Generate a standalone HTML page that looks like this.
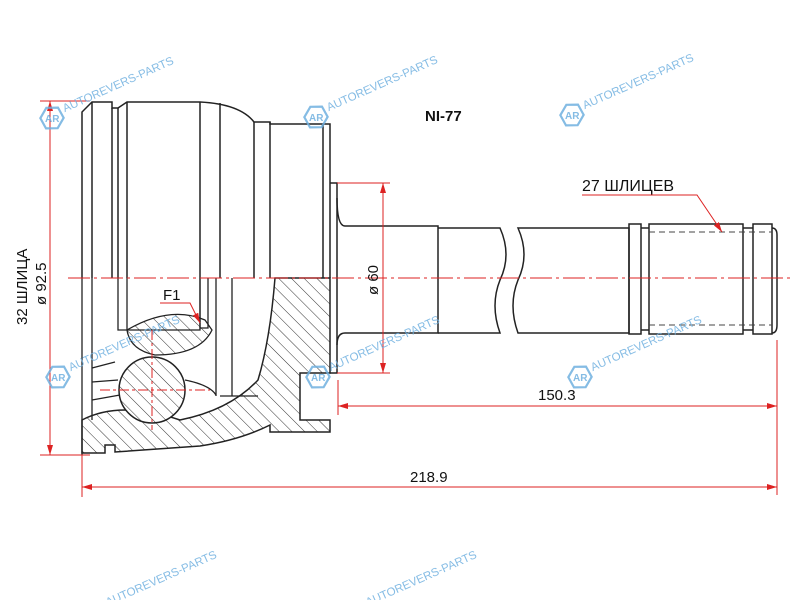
<!DOCTYPE html>
<html><head><meta charset="utf-8"><style>html,body{margin:0;padding:0;background:#fff}svg{display:block}</style></head>
<body>
<svg width="800" height="600" viewBox="0 0 800 600" xmlns="http://www.w3.org/2000/svg" font-family="Liberation Sans, sans-serif">
<defs>
<pattern id="h" patternUnits="userSpaceOnUse" width="9" height="9" patternTransform="rotate(-45)">
<rect width="9" height="9" fill="#fff"/><line x1="0" y1="0" x2="0" y2="9" stroke="#333" stroke-width="1"/></pattern>
<g id="wm">
<polygon points="0,-12 10,-6 10,6 0,12 -10,6 -10,-6" fill="none" stroke="#6fb0e0" stroke-width="2.2" transform="rotate(30)"/>
<text x="-7" y="4" font-size="10" fill="#6fb0e0" font-weight="bold">AR</text>
<text x="14" y="0" font-size="11.5" fill="#6fb0e0" transform="rotate(-24)">AUTOREVERS-PARTS</text>
</g>
<marker id="a" markerWidth="10" markerHeight="6" refX="10" refY="3" orient="auto" markerUnits="userSpaceOnUse"><path d="M0,0 L10,3 L0,6z" fill="#d22"/></marker>
<marker id="b" markerWidth="10" markerHeight="6" refX="0" refY="3" orient="auto" markerUnits="userSpaceOnUse"><path d="M10,0 L0,3 L10,6z" fill="#d22"/></marker>
</defs>

<g fill="none" stroke="#222" stroke-width="1.5">
<!-- housing upper -->
<path d="M82,278 V112 L92,102 H112 V108 H118 L127,102 H200 Q240,104 254,122 H270 V124 H330 V278"/>
<line x1="92" y1="102" x2="92" y2="278"/><line x1="112" y1="108" x2="112" y2="278"/><line x1="118" y1="108" x2="118" y2="278"/>
<line x1="127" y1="102" x2="127" y2="278"/><line x1="200" y1="102" x2="200" y2="278"/><line x1="220" y1="103" x2="220" y2="278"/>
<line x1="254" y1="122" x2="254" y2="278"/><line x1="270" y1="122" x2="270" y2="278"/><line x1="323" y1="124" x2="323" y2="278"/>
<!-- stem -->
<path d="M330,183 H337 V373 H330"/>
<path d="M337,198 Q337,226 345,226 H438 V333 H345 Q337,333 337,345"/>
<path d="M438,228 H500 Q512,255 500,280 Q490,305 500,333 H438"/>
<path d="M518,228 Q530,255 518,280 Q508,305 518,333 H629 V228 Z"/>
<rect x="629" y="224" width="12" height="110"/><rect x="649" y="224" width="94" height="110"/><rect x="753" y="224" width="19" height="110"/>
<path d="M772,228 Q777,228 777,235 V325 Q777,333 772,333"/>
<line x1="641" y1="228" x2="649" y2="228"/><line x1="641" y1="330" x2="649" y2="330"/><line x1="743" y1="228" x2="753" y2="228"/><line x1="743" y1="330" x2="753" y2="330"/>
</g>
<g stroke="#444" stroke-width="1" stroke-dasharray="6,4"><line x1="649" y1="232" x2="772" y2="232"/><line x1="649" y1="325" x2="772" y2="325"/></g>

<!-- lower section hatched -->
<path d="M275,278 H330 V373 H300 V420 H330 V432 H270 V425 Q240,440 200,446 L115,452 V445 H105 V453 H82 V420 Q120,400 180,420 Q230,410 258,380 Q270,340 275,278Z" fill="url(#h)" stroke="#222" stroke-width="1.5"/>
<path d="M127,330 Q170,305 205,320 L212,330 Q200,355 155,355 Q130,350 127,330Z" fill="url(#h)" stroke="#222" stroke-width="1.3"/>
<circle cx="152" cy="390" r="33" fill="url(#h)" stroke="#222" stroke-width="1.5"/>
<g fill="none" stroke="#222" stroke-width="1.3">
<line x1="82" y1="278" x2="82" y2="455"/><line x1="92" y1="278" x2="92" y2="420"/><line x1="127" y1="278" x2="127" y2="330"/>
<path d="M118,278 V330 H200 V278"/><path d="M200,278 V328 H208 V278"/><line x1="216" y1="278" x2="216" y2="396"/><line x1="232" y1="278" x2="232" y2="396"/>
<line x1="220" y1="396" x2="258" y2="396"/>
<path d="M92,368 L115,362 M92,382 L118,380 M92,400 L120,395"/>
<path d="M185,380 Q210,385 216,395"/>
</g>

<!-- centerlines & dims -->
<g stroke="#d22" stroke-width="1" fill="none">
<line x1="68" y1="278" x2="790" y2="278" stroke-dasharray="22,4,3,4"/>
<line x1="152" y1="330" x2="152" y2="430" stroke-dasharray="10,3,3,3"/>
<line x1="100" y1="390" x2="210" y2="390" stroke-dasharray="10,3,3,3"/>
<line x1="40" y1="101" x2="90" y2="101"/><line x1="40" y1="455" x2="90" y2="455"/>
<line x1="50" y1="101" x2="50" y2="455" marker-start="url(#b)" marker-end="url(#a)"/>
<line x1="337" y1="183" x2="390" y2="183"/><line x1="337" y1="373" x2="390" y2="373"/>
<line x1="383" y1="183" x2="383" y2="373" marker-start="url(#b)" marker-end="url(#a)"/>
<line x1="338" y1="380" x2="338" y2="415"/><line x1="777" y1="340" x2="777" y2="495"/><line x1="82" y1="455" x2="82" y2="497"/>
<line x1="338" y1="406" x2="777" y2="406" marker-start="url(#b)" marker-end="url(#a)"/>
<line x1="82" y1="487" x2="777" y2="487" marker-start="url(#b)" marker-end="url(#a)"/>
<path d="M582,195 H697 L722,232" marker-end="url(#a)"/>
<path d="M160,303 H190 L200,323" marker-end="url(#a)"/>
</g>

<g fill="#111">
<text x="425" y="121" font-size="15" font-weight="bold">NI-77</text>
<text x="582" y="191" font-size="16">27 ШЛИЦЕВ</text>
<text x="163" y="300" font-size="15">F1</text>
<text x="538" y="400" font-size="15">150.3</text>
<text x="410" y="482" font-size="15">218.9</text>
<text transform="translate(378,295) rotate(-90)" font-size="15">ø 60</text>
<text transform="translate(46,305) rotate(-90)" font-size="15">ø 92.5</text>
<text transform="translate(27,325) rotate(-90)" font-size="15">32 ШЛИЦА</text>
</g>

<g opacity="0.85">
<use href="#wm" x="52" y="118"/><use href="#wm" x="316" y="117"/><use href="#wm" x="572" y="115"/>
<use href="#wm" x="58" y="377"/><use href="#wm" x="318" y="377"/><use href="#wm" x="580" y="377"/>
<use href="#wm" x="95" y="612"/><use href="#wm" x="355" y="612"/>
</g>
</svg>
</body></html>
